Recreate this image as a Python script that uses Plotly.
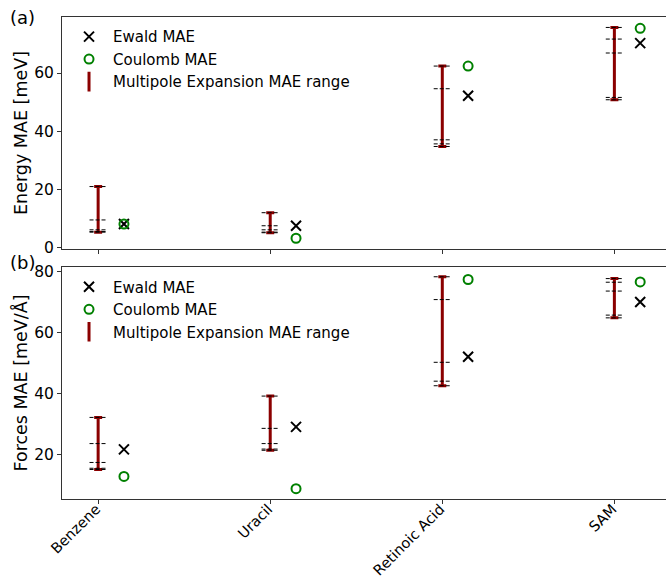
import plotly.graph_objects as go

# Molecules on the shared category axis
categories = ["Benzene", "Uracil", "Retinoic Acid", "SAM"]

# Energy MAE [meV]
energy_ewald = [8.0, 7.4, 52.2, 70.3]
energy_coulomb = [8.0, 3.1, 62.4, 75.4]
energy_multipole = [
    [20.9, 9.4, 6.0, 5.4, 5.2],
    [11.9, 7.4, 6.0, 5.2, 5.0],
    [62.4, 54.6, 37.0, 35.6, 34.7],
    [75.7, 71.7, 66.9, 51.6, 50.8],
]

# Forces MAE [meV/Å]
forces_ewald = [21.7, 29.1, 52.1, 70.1]
forces_coulomb = [12.8, 8.8, 77.5, 76.7]
forces_multipole = [
    [32.2, 23.6, 17.4, 15.5, 15.1],
    [39.2, 28.6, 23.6, 21.8, 21.4],
    [78.4, 70.9, 50.3, 44.1, 42.6],
    [77.8, 76.6, 73.7, 65.8, 64.9],
]

FONT = "DejaVu Sans"
DARKRED = "#8b0000"
GREEN = "#008000"
OFFSET = 0.15   # horizontal shift of the Ewald / Coulomb markers
HALF = 0.05     # half-width of the dashed multipole level lines

fig = go.Figure()


def add_panel(xa, ya, legend, ewald, coulomb, multipole):
    pos = list(range(len(categories)))
    lo = [min(v) for v in multipole]
    hi = [max(v) for v in multipole]
    mid = [(a + b) / 2 for a, b in zip(lo, hi)]
    half = [(b - a) / 2 for a, b in zip(lo, hi)]

    # red range bar spanning all multipole orders
    fig.add_trace(go.Scatter(
        x=pos, y=mid, mode="markers", xaxis=xa, yaxis=ya,
        marker=dict(size=1, color="rgba(0,0,0,0)"),
        error_y=dict(type="data", array=half, symmetric=True,
                     color=DARKRED, thickness=3, width=4),
        showlegend=False, hoverinfo="skip"))

    # dashed level for every individual multipole order
    dx, dy = [], []
    for i, vals in enumerate(multipole):
        for v in vals:
            dx += [i - HALF, i + HALF, None]
            dy += [v, v, None]
    fig.add_trace(go.Scatter(
        x=dx, y=dy, mode="lines", xaxis=xa, yaxis=ya,
        line=dict(color="black", width=1, dash="4px,2px"),
        showlegend=False, hoverinfo="skip"))

    xs = [p + OFFSET for p in pos]
    fig.add_trace(go.Scatter(
        x=xs, y=ewald, mode="markers", xaxis=xa, yaxis=ya,
        name="Ewald MAE", legend=legend, legendgroup=legend + "a",
        marker=dict(symbol="x-thin", size=10, color="black",
                    line=dict(color="black", width=2))))
    fig.add_trace(go.Scatter(
        x=xs, y=coulomb, mode="markers", xaxis=xa, yaxis=ya,
        name="Coulomb MAE", legend=legend, legendgroup=legend + "b",
        marker=dict(symbol="circle-open", size=9, color=GREEN,
                    line=dict(color=GREEN, width=2))))
    # legend entry for the range bar
    fig.add_trace(go.Scatter(
        x=[None], y=[None], mode="markers", xaxis=xa, yaxis=ya,
        name="Multipole Expansion MAE range", legend=legend,
        legendgroup=legend + "c",
        marker=dict(symbol="line-ns", size=14, color=DARKRED,
                    line=dict(color=DARKRED, width=3))))


add_panel("x", "y", "legend", energy_ewald, energy_coulomb, energy_multipole)
add_panel("x2", "y2", "legend2", forces_ewald, forces_coulomb, forces_multipole)

axis_common = dict(
    showline=True, linecolor="#333333", linewidth=1,
    ticks="outside", ticklen=4, tickcolor="#333333",
    showgrid=False, zeroline=False, automargin=False,
    ticklabeloverflow="allow",
    tickfont=dict(family=FONT, size=15.5, color="black"),
)

xrange = [-0.21, 3.3]
legend_common = dict(xanchor="left", yanchor="top", bgcolor="rgba(0,0,0,0)",
                     tracegroupgap=0, itemwidth=38,
                     font=dict(family=FONT, size=15))
fig.update_layout(
    width=666, height=580,
    margin=dict(l=62, r=0, t=17, b=81),
    plot_bgcolor="white", paper_bgcolor="white",
    font=dict(family=FONT, size=15, color="black"),
    xaxis=dict(**axis_common, domain=[0, 1], anchor="y", range=xrange,
               tickvals=list(range(len(categories))), ticktext=categories,
               showticklabels=False, mirror=True),
    xaxis2=dict(**{**axis_common,
                   "tickfont": dict(family=FONT, size=14.5, color="black")},
                domain=[0, 1], anchor="y2", range=xrange,
                tickvals=list(range(len(categories))), ticktext=categories,
                tickangle=-45, ticklabelstandoff=-9, ticklabelshift=-2,
                mirror=True, matches="x"),
    yaxis=dict(**axis_common, domain=[0.5187, 1.0], anchor="x",
               range=[-0.6, 79.3], tickvals=[0, 20, 40, 60],
               title=dict(text="Energy MAE [meV]", standoff=2,
                          font=dict(family=FONT, size=17.5))),
    yaxis2=dict(**axis_common, domain=[0.0, 0.4813], anchor="x2",
                range=[5.4, 81.6], tickvals=[20, 40, 60, 80],
                title=dict(text="Forces MAE [meV/Å]", standoff=2,
                           font=dict(family=FONT, size=17.5))),
    legend=dict(**legend_common, x=0.005, y=0.993),
    legend2=dict(**legend_common, x=0.005, y=0.474),
    annotations=[
        dict(text="(a)", xref="paper", yref="paper", x=-0.066, y=1.0,
             xanchor="center", yanchor="middle", showarrow=False,
             font=dict(family=FONT, size=18)),
        dict(text="(b)", xref="paper", yref="paper", x=-0.066, y=0.4917,
             xanchor="center", yanchor="middle", showarrow=False,
             font=dict(family=FONT, size=18)),
    ],
)

fig.write_html("out.html")
